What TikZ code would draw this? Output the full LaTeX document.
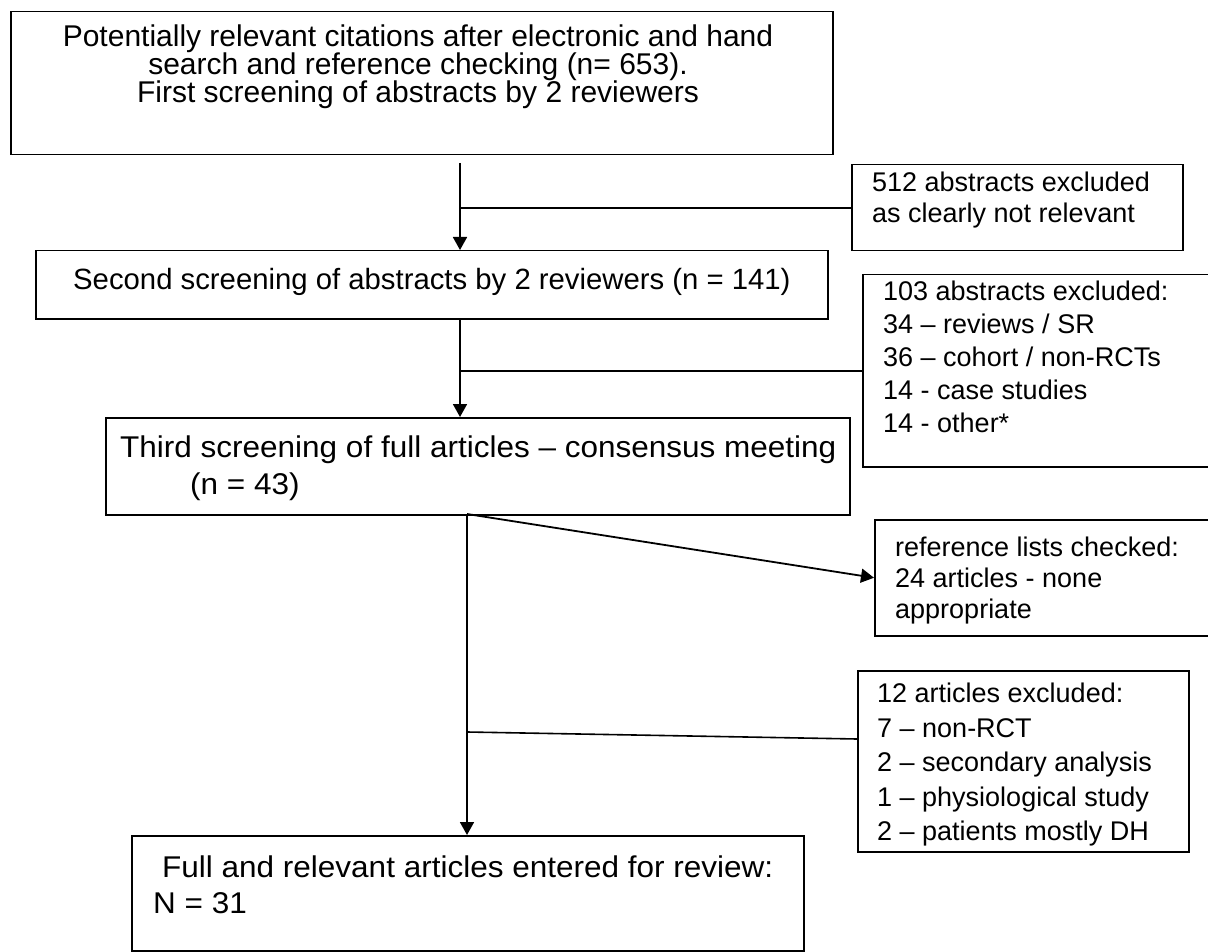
\documentclass[tikz,border=0pt]{standalone}
\usepackage{fontspec}
\setmainfont[Ligatures=TeX]{Liberation Sans}
\newfontfamily\widefont[Ligatures=TeX,FakeStretch=1.05]{Liberation Sans}
\usetikzlibrary{arrows.meta}
\begin{document}
\begin{tikzpicture}[x=1pt,y=-1pt,
  box/.style={draw, line width=1.5pt, rectangle, inner sep=0pt, anchor=north west},
  txt/.style={inner sep=0pt, align=left, anchor=north west},
  side/.style={txt, font=\fontsize{27}{#1}\selectfont},
  side/.default=33,
  ln/.style={line width=1.6pt},
  arr/.style={line width=1.8pt, -{Triangle[length=13pt,width=14pt]}}]
\useasboundingbox (0,0) rectangle (1208,952);
\fill[white] (0,0) rectangle (1208,952);
% boxes
\node[box, minimum width=822pt, minimum height=143pt] (b1) at (10,11) {};
\node[box, minimum width=331pt, minimum height=86pt] (b512) at (851,164) {};
\node[box, minimum width=792pt, minimum height=68pt] (b2) at (35,250) {};
\node[box, minimum width=352pt, minimum height=192pt] (b103) at (862,274) {};
\node[box, minimum width=744pt, minimum height=97pt] (b3) at (105,417) {};
\node[box, minimum width=340pt, minimum height=116pt] (bref) at (874,519) {};
\node[box, minimum width=331pt, minimum height=181pt] (b12) at (857,670) {};
\node[box, minimum width=672pt, minimum height=115pt] (bfin) at (131,835) {};
% texts
\node[txt, align=center, anchor=north, font=\fontsize{30}{28}\selectfont] (t1) at (418,25)
  {Potentially relevant citations after electronic and hand\\search and reference checking (n= 653).\\First screening of abstracts by 2 reviewers};
\node[side=31] (t512) at (872,172) {512 abstracts excluded\\as clearly not relevant};
\node[txt, font=\fontsize{29.3}{34}\selectfont] (t2) at (73,268) {Second screening of abstracts by 2 reviewers (n = 141)};
\node[side=33] (t103) at (883,281) {103 abstracts excluded:\\34 -- reviews / SR\\36 -- cohort / non-RCTs\\14 - case studies\\14 - other*};
\node[txt, font=\widefont\fontsize{30}{37}\selectfont] (t3) at (120,436) {Third screening of full articles -- consensus meeting\\\hspace*{70pt}(n = 43)};
\node[side=31] (tref) at (895,537) {reference lists checked:\\24 articles - none\\appropriate};
\node[side=34.5] (t12) at (877,683) {12 articles excluded:\\7 -- non-RCT\\2 -- secondary analysis\\1 -- physiological study\\2 -- patients mostly DH};
\node[txt, font=\widefont\fontsize{30}{36}\selectfont] (tfin) at (153,856) {\hspace*{9pt}Full and relevant articles entered for review:\\N = 31};
% connectors
\coordinate (a1) at (460,163);
\draw[arr] (a1) -- (a1 |- b2.north);
\draw[ln] (a1 |- b512.west) -- (b512.west);
\draw[arr] (b2.south -| a1) -- (a1 |- b3.north);
\draw[ln] (a1 |- b103.west) -- (b103.west);
\coordinate (a3) at (467,514);
\draw[arr] (a3) -- (a3 |- bfin.north);
\draw[arr] (a3) -- (bref.west);
\coordinate (j1) at (467,732);
\coordinate (j2) at (857,739);
\draw[ln] (j1) -- (j2);
\end{tikzpicture}
\end{document}
